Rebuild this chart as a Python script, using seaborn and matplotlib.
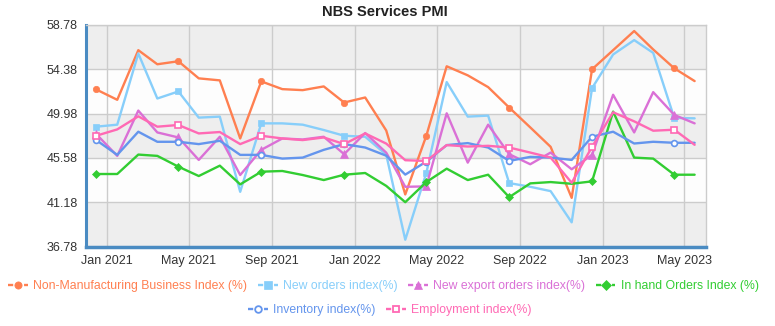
import numpy as np
import pandas as pd
import matplotlib
matplotlib.use("Agg")
import matplotlib.pyplot as plt
import matplotlib.dates as mdates
from matplotlib.lines import Line2D
import seaborn as sns

# ---------------- data ----------------
months = pd.date_range("2020-12-01", periods=30, freq="MS") + pd.Timedelta(days=15)

non_manufacturing = [52.38, 51.35, 56.28, 54.88, 55.18, 53.48, 53.28, 47.51, 53.18, 52.41,
                     52.31, 52.68, 51.08, 51.58, 48.30, 41.95, 47.78, 54.68, 53.78, 52.61,
                     50.58, 48.61, 46.68, 41.61, 54.38, 56.28, 58.18, 56.35, 54.48, 53.21]
new_orders = [48.68, 48.88, 55.95, 51.48, 52.18, 49.58, 49.68, 42.21, 49.01, 49.01,
              48.88, 48.35, 47.78, 47.68, 45.90, 37.45, 44.08, 53.11, 49.68, 49.78,
              43.08, 42.71, 42.28, 39.18, 52.51, 55.85, 57.28, 56.01, 49.55, 49.51]
new_export = [47.95, 45.78, 50.28, 48.11, 47.61, 45.38, 47.68, 43.88, 46.38, 47.51,
              47.41, 47.68, 45.95, 48.05, 46.10, 42.71, 42.75, 50.01, 45.11, 48.88,
              45.95, 44.95, 46.11, 44.45, 45.88, 51.85, 48.11, 52.11, 49.85, 49.01]
in_hand = [43.98, 43.98, 45.91, 45.78, 44.71, 43.78, 44.81, 42.95, 44.21, 44.28,
           43.88, 43.38, 43.91, 44.08, 42.80, 41.18, 43.18, 44.51, 43.38, 43.91,
           41.68, 43.05, 43.18, 43.01, 43.25, 50.18, 45.61, 45.51, 43.91, 43.91]
inventory = [47.35, 45.88, 48.18, 47.18, 47.18, 46.95, 47.28, 45.88, 45.88, 45.51,
             45.61, 46.38, 46.95, 46.61, 45.80, 43.92, 45.21, 46.85, 47.05, 46.61,
             45.28, 45.68, 45.61, 45.38, 47.68, 48.18, 47.01, 47.18, 47.08, 47.08]
employment = [47.78, 48.41, 49.71, 48.68, 48.85, 48.01, 48.15, 46.95, 47.78, 47.51,
              47.35, 47.61, 46.95, 48.01, 47.00, 45.35, 45.28, 46.85, 46.71, 46.78,
              46.61, 46.11, 45.61, 43.11, 46.68, 50.11, 49.21, 48.28, 48.38, 46.88]

series_names = ["Non-Manufacturing Business Index (%)", "New orders index(%)",
                "New export orders index(%)", "In hand Orders Index (%)",
                "Inventory index(%)", "Employment index(%)"]
series_values = [non_manufacturing, new_orders, new_export, in_hand, inventory, employment]
y_ticks = [36.78, 41.18, 45.58, 49.98, 54.38, 58.78]

colors = ["#ff7f50", "#87cefa", "#da70d6", "#32cd32", "#6495ed", "#ff69b4"]
markers = ["o", "s", "^", "D", "o", "s"]
msizes = [4.6, 4.6, 5.4, 4.0, 4.2, 4.2]
hollow = [False, False, False, False, True, True]

# ---------------- style ----------------
sns.set_style("white")
plt.rcParams["font.family"] = ["Liberation Sans", "DejaVu Sans"]

fig = plt.figure(figsize=(7.75, 3.26), dpi=100)
ax = fig.add_axes([86 / 775, 1 - 246.5 / 326, (705.5 - 86) / 775, (246.5 - 25) / 326])

# alternating bands
for i in range(len(y_ticks) - 1):
    ax.axhspan(y_ticks[i], y_ticks[i + 1],
               color="#eeeeee" if i % 2 == 0 else "#fdfdfd", zorder=0, lw=0)

handles = []
for name, vals, c, m, ms, h in zip(series_names, series_values, colors, markers, msizes, hollow):
    sns.lineplot(x=months, y=vals, ax=ax, color=c, linewidth=1.7,
                 marker=m, markevery=4, markersize=ms,
                 markerfacecolor="white" if h else c,
                 markeredgecolor=c, markeredgewidth=1.2 if h else 0.5,
                 zorder=3, legend=False)
    handles.append(Line2D([0], [0], color=c, linewidth=1.7, linestyle=(0, (2.2, 1.2)),
                          marker=m, markersize=ms + 0.6,
                          markerfacecolor="white" if h else c,
                          markeredgecolor=c, markeredgewidth=1.3 if h else 0.5,
                          label=name))

ax.set_xlim(pd.Timestamp("2020-12-01"), pd.Timestamp("2023-06-01"))
ax.set_ylim(y_ticks[0], y_ticks[-1])
ax.set_yticks(y_ticks)
ax.set_yticklabels([f"{v:.2f}" for v in y_ticks])
ax.xaxis.set_major_locator(mdates.MonthLocator(bymonth=[1, 5, 9]))
ax.xaxis.set_major_formatter(mdates.DateFormatter("%b %Y"))
ax.set_xlabel("")
ax.set_ylabel("")

ax.grid(True, color="#cccccc", linewidth=1.0, zorder=1)
ax.set_axisbelow(True)
ax.tick_params(axis="y", length=0, labelsize=9, labelcolor="#333333", pad=6)
ax.tick_params(axis="x", length=4, width=1.2, color="#4a8bc2", labelsize=9,
               labelcolor="#333333", pad=2, direction="out")
ax.spines["left"].set_color("#4a8bc2")
ax.spines["left"].set_linewidth(2.2)
ax.spines["bottom"].set_color("#4a8bc2")
ax.spines["bottom"].set_linewidth(2.5)
ax.spines["top"].set_color("#cccccc")
ax.spines["right"].set_color("#cccccc")
ax.spines["top"].set_linewidth(1)
ax.spines["right"].set_linewidth(1)

fig.text(0.497, 1 - 12 / 326, "NBS Services PMI", ha="center", va="center",
         fontsize=10.5, fontweight="bold", color="#222222")

leg1 = fig.legend(handles=handles[:4], loc="center", bbox_to_anchor=(0.495, 1 - 286 / 326),
                  ncol=4, frameon=False, fontsize=8.85, labelcolor="linecolor",
                  handlelength=1.6, handletextpad=0.45, columnspacing=0.85, borderpad=0)
leg2 = fig.legend(handles=handles[4:], loc="center", bbox_to_anchor=(0.503, 1 - 310 / 326),
                  ncol=2, frameon=False, fontsize=8.85, labelcolor="linecolor",
                  handlelength=1.6, handletextpad=0.45, columnspacing=0.85, borderpad=0)

fig.savefig("out.png", dpi=100)
